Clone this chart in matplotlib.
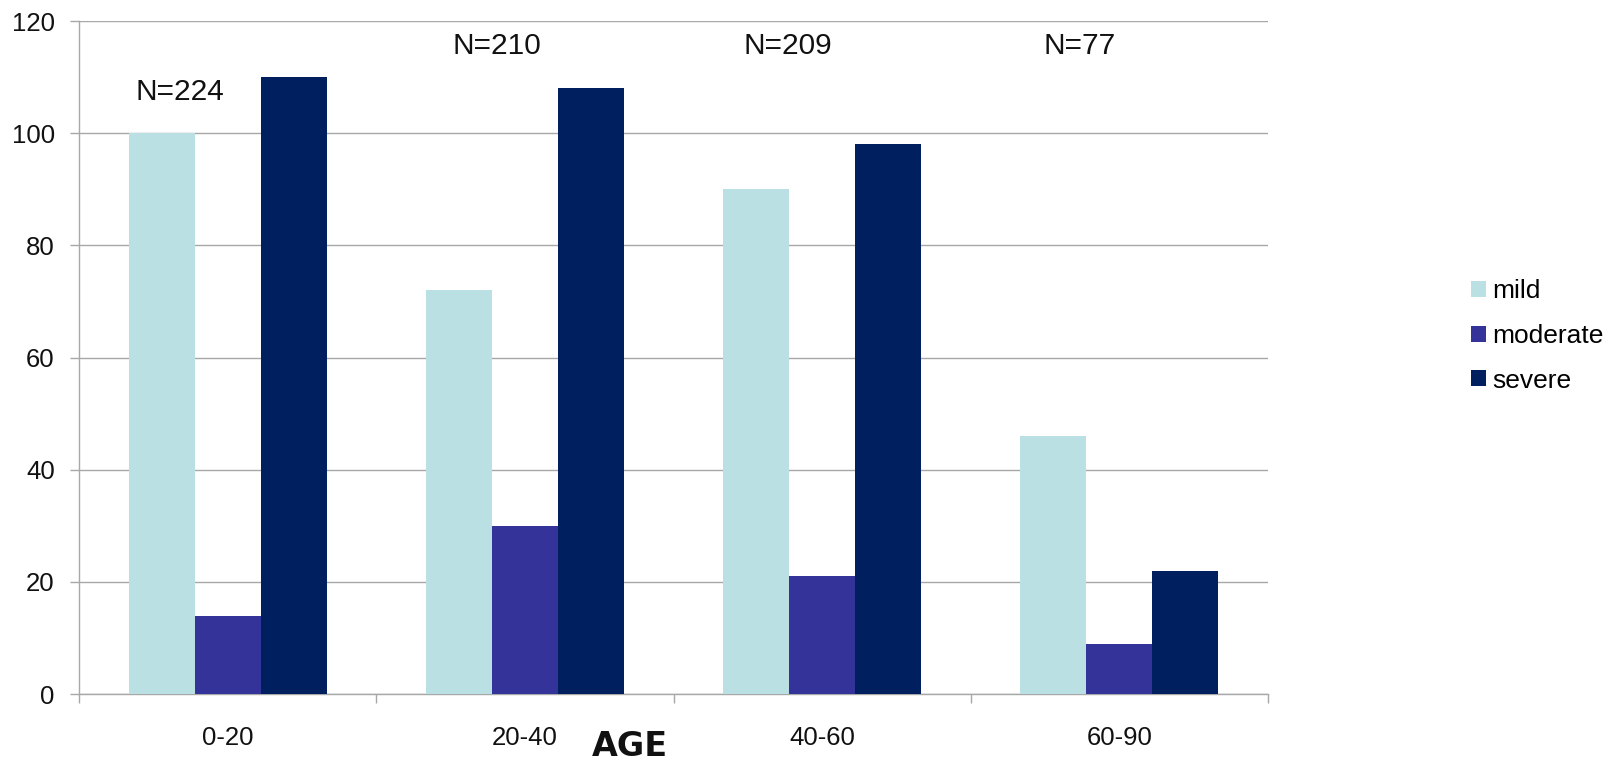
import matplotlib
matplotlib.use("Agg")
import matplotlib.pyplot as plt
import numpy as np
from matplotlib.patches import Patch

# Age groups and counts per severity
age_groups = ["0-20", "20-40", "40-60", "60-90"]
mild = [100, 72, 90, 46]
moderate = [14, 30, 21, 9]
severe = [110, 108, 98, 22]
group_n = ["N=224", "N=210", "N=209", "N=77"]
yticks = [0, 20, 40, 60, 80, 100, 120]

series_names = ["mild", "moderate", "severe"]
series_colors = ["#BBE0E3", "#333399", "#001F5F"]

# where the group-size annotations sit (data coordinates)
n_label_x = [-0.16, 0.905, 1.885, 2.867]
n_label_y = [107.3, 115.5, 115.5, 115.5]

plt.rcParams["font.family"] = ["Liberation Sans", "DejaVu Sans"]

fig = plt.figure(figsize=(16.19, 7.64), dpi=100)
ax = fig.add_axes([0.0488, 0.0916, 0.7344, 0.8809])

x = np.arange(len(age_groups))
width = 2 / 9
for k, (vals, color) in enumerate(zip([mild, moderate, severe], series_colors)):
    ax.bar(x + (k - 1) * width, vals, width=width, color=color,
           edgecolor="none", zorder=3, label=series_names[k])

ax.set_xlim(-0.5, len(age_groups) - 0.5)
ax.set_ylim(0, 120)
ax.set_yticks(yticks)
grid_color = "#a8a8a8"
ax.yaxis.grid(True, color=grid_color, linewidth=1.0, zorder=0)
ax.set_axisbelow(True)

for side in ["top", "right"]:
    ax.spines[side].set_visible(False)
for side in ["left", "bottom"]:
    ax.spines[side].set_color(grid_color)
    ax.spines[side].set_linewidth(1.0)

ax.tick_params(axis="y", length=6.5, width=1.0, color=grid_color, pad=11,
               labelsize=18.5, labelcolor="#111111")

# category labels centred, boundary tick marks between categories
ax.set_xticks(x)
ax.set_xticklabels(age_groups)
ax.tick_params(axis="x", which="major", length=0, pad=23, labelsize=18.5,
               labelcolor="#111111")
ax.set_xticks(np.arange(-0.5, len(age_groups), 1.0), minor=True)
ax.tick_params(axis="x", which="minor", length=6.5, width=1.0, color=grid_color)

# group sizes above each cluster
for label, xx, yy in zip(group_n, n_label_x, n_label_y):
    ax.text(xx, yy, label, ha="center", va="center", fontsize=21.5,
            color="#111111")

fig.text(630 / 1619, 1.5 / 764, "AGE", ha="center", va="bottom",
         fontsize=24, fontweight="heavy", family="DejaVu Sans", color="#111111")

handles = [Patch(facecolor=c, edgecolor="none") for c in series_colors]
fig.legend(handles, series_names, loc="center left",
           bbox_to_anchor=(1471 / 1619, 1 - 336 / 764), frameon=False,
           fontsize=19, handlelength=0.57, handleheight=0.57,
           handletextpad=0.23, labelspacing=0.78, borderaxespad=0,
           borderpad=0)

fig.savefig("out.png", dpi=100)
